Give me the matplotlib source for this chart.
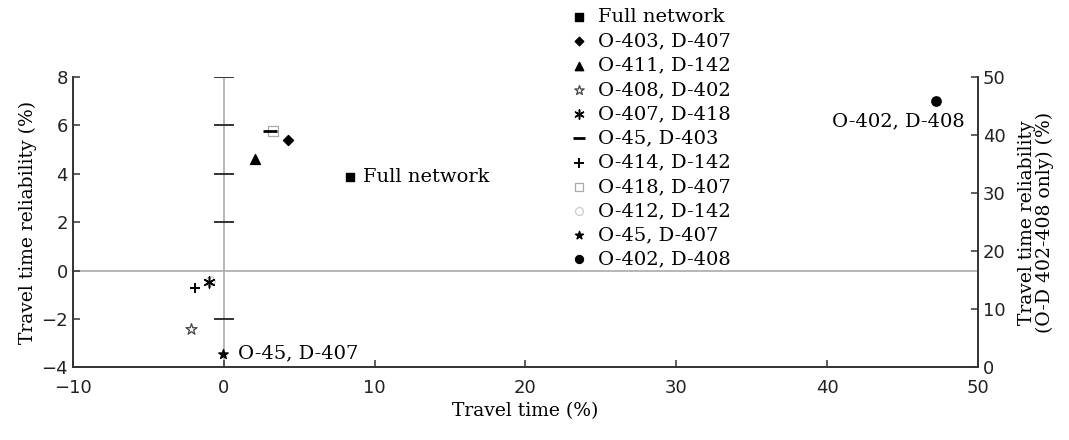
import numpy as np
import matplotlib
matplotlib.use("Agg")
import matplotlib.pyplot as plt
from matplotlib.ticker import FixedLocator

plt.rcParams['font.family'] = 'DejaVu Serif'

# --- data
labels = ["Full network", "O-403, D-407", "O-411, D-142", "O-408, D-402",
          "O-407, D-418", "O-45, D-403", "O-414, D-142", "O-418, D-407",
          "O-412, D-142", "O-45, D-407"]
travel_time = [8.35, 4.25, 2.05, -2.15, -0.95, 3.05, -1.9, 3.3, -0.9, -0.05]
reliability = [3.85, 5.4, 4.6, -2.4, -0.48, 5.75, -0.7, 5.75, -0.45, -3.45]
# O-D 402-408 drawn against the right axis
od_label = "O-402, D-408"
od_time = [47.2]
od_reliab = [45.9]

# marker styles: (marker, facecolor, edgecolor, size, linewidth)
styles = [("s", "black", "black", 40, 1.0),
          ("D", "black", "black", 26, 1.0),
          ("^", "black", "black", 50, 1.0),
          ("*", "white", "#444444", 70, 0.9),
          ((6, 2, 0), "black", "black", 60, 1.1),
          ("_", "black", "black", 100, 2.0),
          ("+", "black", "black", 60, 1.4),
          ("s", "white", "#aaaaaa", 45, 0.9),
          ("o", "white", "#cccccc", 45, 0.9),
          ("*", "black", "black", 50, 1.0)]

fig = plt.figure(figsize=(10.69, 4.4), dpi=100)
ax = fig.add_axes([0.068, 0.165, 0.847, 0.66])
ax2 = ax.twinx()

ax.axhline(0, color="#aaaaaa", lw=1.2, zorder=1)
ax.axvline(0, color="#aaaaaa", lw=1.2, zorder=1)
# short tick marks along the zero line
for yt in [-2, 2, 4, 6, 8]:
    ax.plot([-0.6, 0.6], [yt, yt], color="#333333", lw=1.4, zorder=2)

handles = []
for i, lab in enumerate(labels):
    m, fc, ec, s, lw = styles[i]
    h = ax.scatter(travel_time[i], reliability[i], marker=m, s=s,
                   facecolors=fc, edgecolors=ec, linewidths=lw,
                   zorder=4 if fc != "white" else 3, label=lab)
    handles.append(h)

h = ax2.scatter(od_time, od_reliab, marker="o", s=45, color="black",
                zorder=4, label=od_label)
handles.append(h)

fs = 14
ax.text(travel_time[0] + 0.9, reliability[0], labels[0], fontsize=fs,
        va="center", ha="left")
ax.text(travel_time[9] + 1.0, reliability[9] + 0.05, labels[9], fontsize=fs,
        va="center", ha="left")
ax2.text(od_time[0] + 1.9, od_reliab[0] - 3.6, od_label, fontsize=fs,
         va="center", ha="right")

ax.set_xlim(-10, 50)
ax.set_ylim(-4, 8)
ax2.set_ylim(0, 50)
ax.xaxis.set_major_locator(FixedLocator(np.arange(-10, 51, 10)))
ax.yaxis.set_major_locator(FixedLocator(np.arange(-4, 9, 2)))
ax2.yaxis.set_major_locator(FixedLocator(np.arange(0, 51, 10)))

for a in (ax, ax2):
    a.spines["top"].set_visible(False)
    for sp in a.spines.values():
        sp.set_color("#333333")
        sp.set_linewidth(1.2)
    a.tick_params(direction="in", length=5, width=1.1, colors="#333333",
                  labelsize=13, labelcolor="#222222")
for t in ax.get_xticklabels() + ax.get_yticklabels() + ax2.get_yticklabels():
    t.set_family("DejaVu Sans")
ax.tick_params(axis="x", pad=8)

ax.set_xlabel("Travel time (%)", fontsize=13.5)
ax.set_ylabel("Travel time reliability (%)", fontsize=13.5, labelpad=3)
ax2.set_ylabel("Travel time reliability\n(O-D 402-408 only) (%)", fontsize=13.5,
               labelpad=9, linespacing=0.95)

fig.legend(handles=handles, loc="upper left", bbox_to_anchor=(0.518, 1.012),
           frameon=False, fontsize=fs, handletextpad=0.4,
           labelspacing=0.32, borderpad=0.2, handlelength=1.2,
           markerscale=0.85)

fig.savefig("out.png", dpi=100)
